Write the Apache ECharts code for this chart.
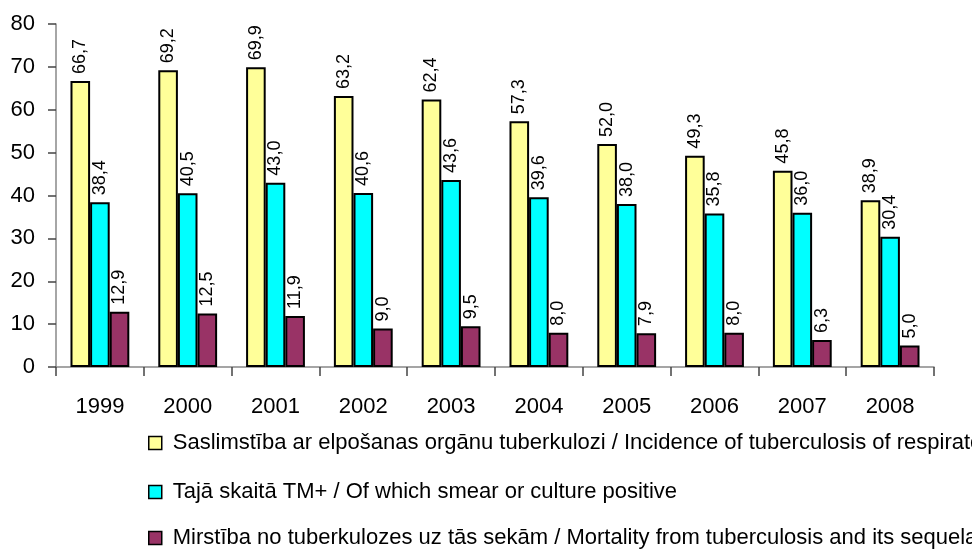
<!DOCTYPE html>
<html><head><meta charset="utf-8">
<script src="https://cdn.jsdelivr.net/npm/echarts@6/dist/echarts.min.js"></script>
<style>html,body{margin:0;padding:0;background:#fff}#c{width:972px;height:550px}</style>
</head><body><div id="c"></div>
<script>
const years = ['1999','2000','2001','2002','2003','2004','2005','2006','2007','2008'];
const incidence = [66.7, 69.2, 69.9, 63.2, 62.4, 57.3, 52.0, 49.3, 45.8, 38.9];
const smearPositive = [38.4, 40.5, 43.0, 40.6, 43.6, 39.6, 38.0, 35.8, 36.0, 30.4];
const mortality = [12.9, 12.5, 11.9, 9.0, 9.5, 8.0, 7.9, 8.0, 6.3, 5.0];
const seriesNames = [
  'Saslimstība ar elpošanas orgānu tuberkulozi / Incidence of tuberculosis of respiratory organs',
  'Tajā skaitā TM+ / Of which smear or culture positive',
  'Mirstība no tuberkulozes uz tās sekām / Mortality from tuberculosis and its sequelae'
];
const yTicks = [0,10,20,30,40,50,60,70,80];
const colors = ['#FFFF99','#00FFFF','#993366'];
const FONT = "'Liberation Sans',Arial,sans-serif";

const chart = echarts.init(document.getElementById('c'));
const mk = (name, data, color) => ({
  name, type: 'bar', data, barGap: '0%', barCategoryGap: '33%',
  itemStyle: { color, borderColor: '#000', borderWidth: 2 },
  label: {
    show: true, position: 'top', rotate: 90, align: 'left', verticalAlign: 'middle',
    distance: 7, color: '#000', fontFamily: FONT, fontSize: 18,
    formatter: p => p.value.toFixed(1).replace('.', ',')
  }
});
const legendTops = [432, 481, 527];
const legends = seriesNames.map((n, i) => ({
  data: [n], orient: 'vertical', left: 148, top: legendTops[i], padding: 0,
  itemWidth: 13, itemHeight: 13, icon: 'rect', itemGap: 0,
  textStyle: { fontFamily: FONT, fontSize: 22, color: '#000', padding: [0,0,0,6] },
  itemStyle: { borderColor: '#000', borderWidth: 1.5 }
}));
chart.setOption({
  animation: false,
  grid: { left: 56, right: 38, top: 24, bottom: 183, containLabel: false },
  legend: legends,
  xAxis: {
    type: 'category', data: years,
    axisLine: { lineStyle: { color: '#888', width: 1.5 } },
    axisTick: { show: true, alignWithLabel: false, length: 9, lineStyle: { color: '#444', width: 1.5 } },
    axisLabel: { fontFamily: FONT, fontSize: 22, color: '#000', margin: 29 }
  },
  yAxis: {
    type: 'value', min: 0, max: 80, interval: 10,
    axisLine: { show: true, lineStyle: { color: '#888', width: 1.5 } },
    axisTick: { show: true, length: 8, lineStyle: { color: '#444', width: 1.5 } },
    splitLine: { show: false },
    axisLabel: { fontFamily: FONT, fontSize: 22, color: '#000', margin: 21,
      formatter: v => yTicks.includes(v) ? String(v) : '' }
  },
  series: [mk(seriesNames[0], incidence, colors[0]), mk(seriesNames[1], smearPositive, colors[1]), mk(seriesNames[2], mortality, colors[2])]
});
</script></body></html>
